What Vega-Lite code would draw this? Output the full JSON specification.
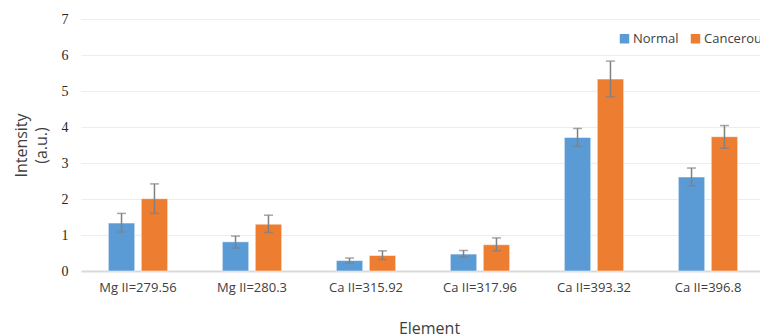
{
  "$schema": "https://vega.github.io/schema/vega-lite/v6.json",
  "autosize": {"type": "none"},
  "padding": {"left": 81, "top": 19, "right": 0, "bottom": 65},
  "width": 679,
  "height": 252,
  "background": "white",
  "config": {
    "view": {"stroke": null},
    "axisY": {
      "titleFont": "Open Sans", "titleFontSize": 16, "titleFontWeight": "normal", "titleColor": "#404040",
      "titleAngle": -90, "titleX": -68, "titleY": 126, "titleAlign": "center", "titleBaseline": "top", "titleLineHeight": 20,
      "labelFont": "Liberation Serif", "labelFontSize": 14, "labelColor": "#262626", "labelPadding": 13,
      "ticks": false, "domain": false, "gridColor": "#ededed", "gridWidth": 1, "labelOverlap": false
    }
  },
  "data": {"values": [
    {"element": "Mg II=279.56", "group": "Normal", "value": 1.33, "lo": 1.08, "hi": 1.60},
    {"element": "Mg II=279.56", "group": "Cancerous", "value": 2.01, "lo": 1.60, "hi": 2.42},
    {"element": "Mg II=280.3", "group": "Normal", "value": 0.81, "lo": 0.64, "hi": 0.97},
    {"element": "Mg II=280.3", "group": "Cancerous", "value": 1.30, "lo": 1.07, "hi": 1.55},
    {"element": "Ca II=315.92", "group": "Normal", "value": 0.29, "lo": 0.22, "hi": 0.36},
    {"element": "Ca II=315.92", "group": "Cancerous", "value": 0.43, "lo": 0.32, "hi": 0.56},
    {"element": "Ca II=317.96", "group": "Normal", "value": 0.47, "lo": 0.39, "hi": 0.57},
    {"element": "Ca II=317.96", "group": "Cancerous", "value": 0.73, "lo": 0.56, "hi": 0.92},
    {"element": "Ca II=393.32", "group": "Normal", "value": 3.71, "lo": 3.46, "hi": 3.96},
    {"element": "Ca II=393.32", "group": "Cancerous", "value": 5.33, "lo": 4.84, "hi": 5.83},
    {"element": "Ca II=396.8", "group": "Normal", "value": 2.61, "lo": 2.37, "hi": 2.86},
    {"element": "Ca II=396.8", "group": "Cancerous", "value": 3.73, "lo": 3.41, "hi": 4.04}
  ]},
  "encoding": {
    "x": {
      "field": "element", "type": "nominal", "sort": null,
      "scale": {"range": [0, 684], "paddingInner": 0.48, "paddingOuter": 0.24},
      "axis": {
        "title": "Element", "titleFont": "Open Sans", "titleFontSize": 16, "titleFontWeight": "normal",
        "titleColor": "#404040", "titleX": 348, "titleY": 62, "titleBaseline": "alphabetic", "titleAlign": "center",
        "labelFont": "Open Sans", "labelFontSize": 13, "labelColor": "#404040", "labelPadding": 10,
        "labelAngle": 0, "ticks": false, "domainColor": "#d9d9d9", "domainWidth": 2, "grid": false
      }
    },
    "xOffset": {"field": "group", "type": "nominal", "sort": ["Normal", "Cancerous"], "scale": {"paddingInner": 0.2, "paddingOuter": 0}}
  },
  "layer": [
    {
      "mark": {"type": "bar", "stroke": "#ffffff", "strokeWidth": 0.8, "strokeOpacity": 0.6},
      "encoding": {
        "y": {
          "field": "value", "type": "quantitative",
          "scale": {"domain": [0, 7], "nice": false},
          "axis": {"values": [0, 1, 2, 3, 4, 5, 6, 7], "title": ["Intensity", "(a.u.)"], "titleLineHeight": 20}
        },
        "color": {
          "field": "group", "type": "nominal",
          "scale": {"domain": ["Normal", "Cancerous"], "range": ["#5b9bd5", "#ed7d31"]},
          "legend": {
            "title": null, "orient": "none", "legendX": 537, "legendY": 13, "direction": "horizontal",
            "symbolType": "square", "symbolSize": 90, "symbolStrokeWidth": 0, "labelFont": "Open Sans", "labelFontSize": 13,
            "labelColor": "#404040", "labelOffset": 2, "columnPadding": 10
          }
        }
      }
    },
    {
      "mark": {"type": "rule", "color": "#808080", "strokeWidth": 1.5},
      "encoding": {
        "y": {"field": "lo", "type": "quantitative", "axis": {"values": [0, 1, 2, 3, 4, 5, 6, 7], "title": ["Intensity", "(a.u.)"], "titleLineHeight": 20}},
        "y2": {"field": "hi"}
      }
    },
    {
      "transform": [{"fold": ["lo", "hi"], "as": ["end", "bound"]}],
      "mark": {"type": "tick", "color": "#808080", "orient": "horizontal", "size": 9, "thickness": 1.5},
      "encoding": {
        "y": {"field": "bound", "type": "quantitative", "axis": {"values": [0, 1, 2, 3, 4, 5, 6, 7], "title": ["Intensity", "(a.u.)"], "titleLineHeight": 20}}
      }
    }
  ]
}
